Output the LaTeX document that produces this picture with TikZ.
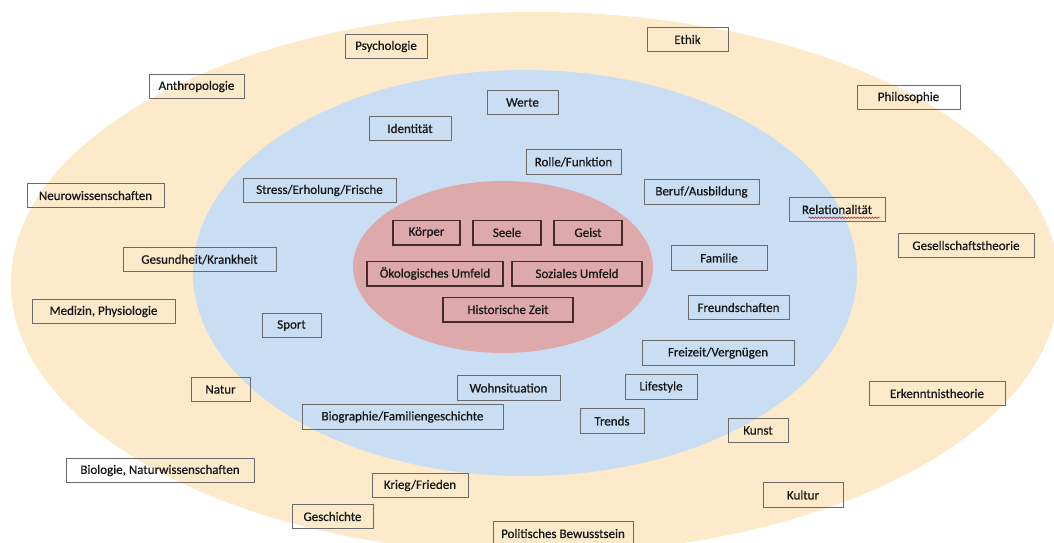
\documentclass[tikz,border=0pt]{standalone}
\usepackage{fontspec}
\setmainfont{Carlito}
\newfontfamily\lblfont{Carlito}[FakeBold=0.6]
\usetikzlibrary{decorations.pathmorphing}
\definecolor{creamc}{HTML}{FCEACB}
\definecolor{bluec}{HTML}{C9DEF3}
\definecolor{redc}{HTML}{DEA9AB}
\definecolor{boxgray}{HTML}{6A6A6A}
\definecolor{innerline}{HTML}{452A2A}
\definecolor{txt}{HTML}{161616}
\tikzset{
  lbl/.style={draw=boxgray, line width=0.9pt, rectangle, inner sep=0pt,
    minimum height=24.5pt, text=txt, font=\lblfont\fontsize{13}{15}\selectfont},
  core/.style={lbl, draw=innerline, line width=1.5pt},
}
\begin{document}
\begin{tikzpicture}[x=1pt,y=-1pt]
\useasboundingbox (0,0) rectangle (1054,543);
\clip (0,0) rectangle (1054,543);
% ellipses
\fill[creamc] (535,283) ellipse [x radius=524, y radius=271];
\fill[bluec] (525,273) ellipse [x radius=332, y radius=203];
\fill[redc] (503,267) ellipse [x radius=150, y radius=86];
% outer ring
\node[lbl, minimum width=82pt] (psy) at (386,46.5) {Psychologie};
\node[lbl, minimum width=81pt] (ethik) at (687.5,39.5) {Ethik};
\node[lbl, minimum width=95pt] (anthro) at (196.5,86.5) {Anthropologie};
\node[lbl, minimum width=103pt] (philo) at (908.5,97.5) {Philosophie};
\node[lbl, minimum width=137pt] (neuro) at (95.5,195.5) {Neurowissenschaften};
\node[lbl, minimum width=96pt] (relat) at (837,209.5) {Relationalität};
\node[lbl, minimum width=136pt] (gesell) at (966,245.5) {Gesellschaftstheorie};
\node[lbl, minimum width=153pt] (gesund) at (199.5,259.5) {Gesundheit/Krankheit};
\node[lbl, minimum width=143pt] (medizin) at (103.5,311.5) {Medizin, Physiologie};
\node[lbl, minimum width=59pt] (natur) at (220.5,389.5) {Natur};
\node[lbl, minimum width=136pt] (erkennt) at (937,393.5) {Erkenntnistheorie};
\node[lbl, minimum width=60pt] (kunst) at (758,430.5) {Kunst};
\node[lbl, minimum width=188pt] (biologie) at (160,470.5) {Biologie, Naturwissenschaften};
\node[lbl, minimum width=96pt] (krieg) at (420,485.5) {Krieg/Frieden};
\node[lbl, minimum width=80pt] (kultur) at (803,495) {Kultur};
\node[lbl, minimum width=81pt] (gesch) at (332.5,516.5) {Geschichte};
\node[lbl, minimum width=140pt] (polit) at (563,533.5) {Politisches Bewusstsein};
% middle ring
\node[lbl, minimum width=71pt] (werte) at (522.5,102.5) {Werte};
\node[lbl, minimum width=82pt] (ident) at (410,128.5) {Identität};
\node[lbl, minimum width=95pt] (rolle) at (573.5,162) {Rolle/Funktion};
\node[lbl, minimum width=153pt] (stress) at (319.5,190.5) {Stress/Erholung/Frische};
\node[lbl, minimum width=115pt] (beruf) at (701.5,192) {Beruf/Ausbildung};
\node[lbl, minimum width=96pt] (familie) at (719,258) {Familie};
\node[lbl, minimum width=59pt] (sport) at (291.5,325.5) {Sport};
\node[lbl, minimum width=101pt] (freund) at (738.5,307.5) {Freundschaften};
\node[lbl, minimum width=152pt] (freizeit) at (718,353) {Freizeit/Vergnügen};
\node[lbl, minimum width=103pt] (wohn) at (508.5,388) {Wohnsituation};
\node[lbl, minimum width=72pt] (lifestyle) at (661,387) {Lifestyle};
\node[lbl, minimum width=201pt] (bio) at (402.5,417) {Biographie/Familiengeschichte};
\node[lbl, minimum width=64pt] (trends) at (612,421) {Trends};
% core
\node[core, minimum width=67pt] (koerper) at (426.5,232.5) {Körper};
\node[core, minimum width=68pt] (seele) at (507,232.5) {Seele};
\node[core, minimum width=68pt] (geist) at (588,232.5) {Geist};
\node[core, minimum width=136pt] (oeko) at (435,273.5) {Ökologisches Umfeld};
\node[core, minimum width=130pt] (sozial) at (577,273.5) {Soziales Umfeld};
\node[core, minimum width=130pt] (hist) at (508,309.5) {Historische Zeit};
% spell-check underline
\draw[red!85!black, line width=0.6pt, decorate,
  decoration={snake, segment length=3pt, amplitude=0.7pt}]
  ([xshift=20pt,yshift=4.5pt]relat.south west) -- ([xshift=-6pt,yshift=4.5pt]relat.south east);
\end{tikzpicture}
\end{document}
